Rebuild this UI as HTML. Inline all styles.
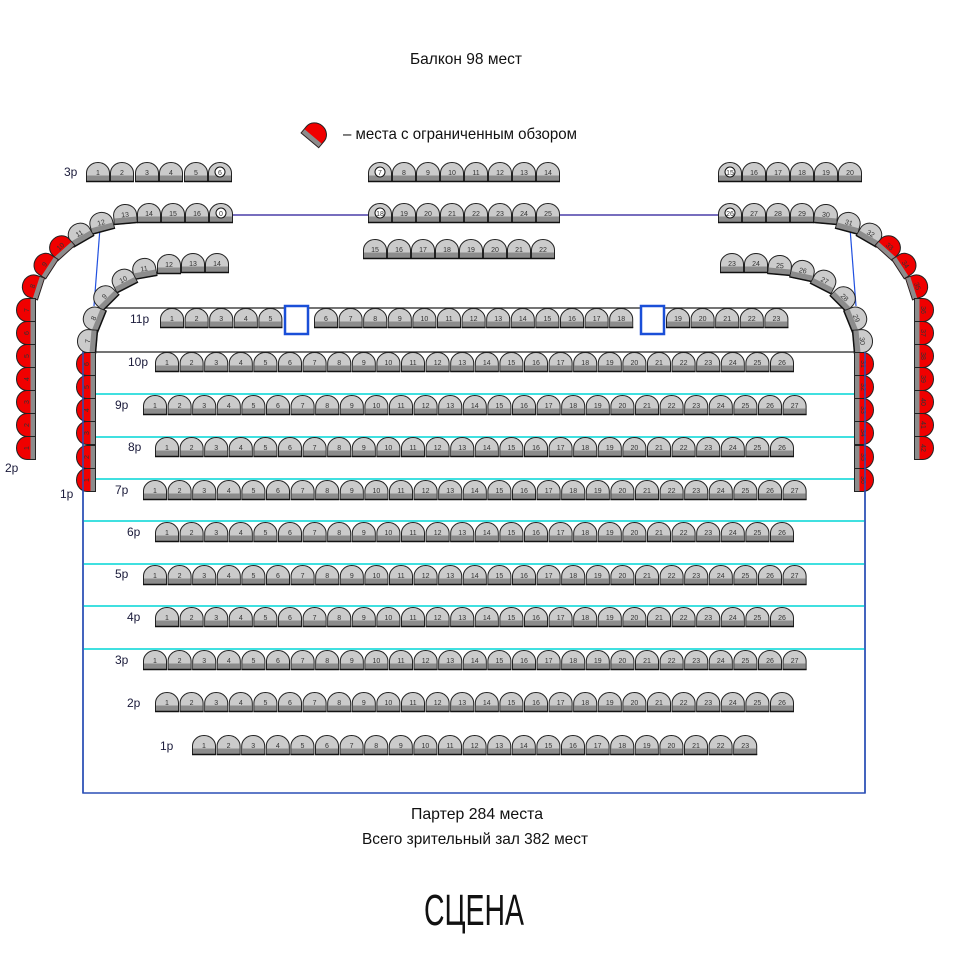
<!DOCTYPE html>
<html><head><meta charset="utf-8"><style>
html,body{margin:0;padding:0;background:#fff;}
svg{display:block;}
.n text{font-family:"Liberation Sans",sans-serif;font-size:7px;fill:#333;text-anchor:middle;}
.lbl{font-family:"Liberation Sans",sans-serif;font-size:12px;fill:#1a1a3a;}
.cap{font-family:"Liberation Sans Narrow","Liberation Sans",sans-serif;fill:#111;text-anchor:middle;}
</style></head><body>
<svg width="956" height="955" viewBox="0 0 956 955" xmlns="http://www.w3.org/2000/svg">
<defs>
<g id="s"><path d="M.5,19.5V11A11.5,10.5 0 0 1 23.5,11V19.5Z" fill="#cbcbcb" stroke="#222"/><rect x="1" y="13.5" width="22" height="5.5" fill="#8c8c8c"/><line x1="0" y1="19.5" x2="24" y2="19.5" stroke="#111" stroke-width="1.5"/></g>
<g id="rd"><path d="M.5,19.5V11A11.5,10.5 0 0 1 23.5,11V19.5Z" fill="#f00000" stroke="#222"/><rect x="1" y="14.5" width="22" height="4.5" fill="#8c8c8c"/></g>
<g id="r5"><use href="#s" x="0"/><use href="#s" x="24.6"/><use href="#s" x="49.2"/><use href="#s" x="73.8"/><use href="#s" x="98.4"/></g>
<g id="r13"><use href="#r5"/><use href="#s" x="123"/><use href="#s" x="147.6"/><use href="#s" x="172.2"/><use href="#s" x="196.8"/><use href="#s" x="221.4"/><use href="#s" x="246"/><use href="#s" x="270.6"/><use href="#s" x="295.2"/></g>
<g id="r23"><use href="#r13"/><use href="#s" x="319.8"/><use href="#s" x="344.4"/><use href="#s" x="369"/><use href="#s" x="393.6"/><use href="#s" x="418.2"/><use href="#s" x="442.8"/><use href="#s" x="467.4"/><use href="#s" x="492"/><use href="#s" x="516.6"/><use href="#s" x="541.2"/></g>
<g id="r26"><use href="#r23"/><use href="#s" x="565.8"/><use href="#s" x="590.4"/><use href="#s" x="615"/></g>
<g id="r27"><use href="#r26"/><use href="#s" x="639.6"/></g>
</defs>

<!-- captions -->
<text class="cap" x="466" y="64" font-size="16" textLength="112" lengthAdjust="spacingAndGlyphs">Балкон 98 мест</text>
<text class="cap" x="460" y="139" font-size="16" textLength="234" lengthAdjust="spacingAndGlyphs" style="text-anchor:middle">– места с ограниченным обзором</text>
<g transform="translate(316,133) rotate(40)"><use href="#rd" x="-12" y="-10"/></g>
<text class="cap" x="477" y="819" font-size="16" textLength="132" lengthAdjust="spacingAndGlyphs">Партер 284 места</text>
<text class="cap" x="475" y="844" font-size="16" textLength="226" lengthAdjust="spacingAndGlyphs">Всего зрительный зал 382 мест</text>
<text class="cap" x="474" y="925" font-size="44" textLength="100" lengthAdjust="spacingAndGlyphs">СЦЕНА</text>

<!-- lines -->
<line x1="233" y1="215" x2="368" y2="215" stroke="#4a3fa8" stroke-width="1.5"/>
<line x1="557" y1="215" x2="718" y2="215" stroke="#4a3fa8" stroke-width="1.5"/>
<line x1="100" y1="228" x2="94" y2="306" stroke="#2050e0" stroke-width="1.2"/>
<line x1="850" y1="228" x2="856" y2="306" stroke="#2050e0" stroke-width="1.2"/>
<line x1="95" y1="308" x2="855" y2="308" stroke="#222" stroke-width="1.2"/>
<line x1="95" y1="352" x2="855" y2="352" stroke="#222" stroke-width="1.2"/>
<path d="M83,345V793H865V345" fill="none" stroke="#2a4fb5" stroke-width="1.5"/>
<g stroke="#40e0e0" stroke-width="2">
<line x1="83" y1="394" x2="865" y2="394"/><line x1="83" y1="437" x2="865" y2="437"/><line x1="83" y1="479" x2="865" y2="479"/><line x1="83" y1="521" x2="865" y2="521"/><line x1="83" y1="564" x2="865" y2="564"/><line x1="83" y1="606" x2="865" y2="606"/><line x1="83" y1="649" x2="865" y2="649"/>
</g>

<!-- row labels -->
<text class="lbl" x="130" y="323">11р</text>
<text class="lbl" x="128" y="366">10р</text>
<text class="lbl" x="115" y="409">9р</text>
<text class="lbl" x="128" y="451">8р</text>
<text class="lbl" x="115" y="494">7р</text>
<text class="lbl" x="127" y="536">6р</text>
<text class="lbl" x="115" y="578">5р</text>
<text class="lbl" x="127" y="621">4р</text>
<text class="lbl" x="115" y="664">3р</text>
<text class="lbl" x="127" y="707">2р</text>
<text class="lbl" x="160" y="750">1р</text>
<text class="lbl" x="64" y="176">3р</text>
<text class="lbl" x="5" y="472">2р</text>
<text class="lbl" x="60" y="498">1р</text>

<!-- row 11 -->
<rect x="285" y="306" width="23" height="28" fill="#fff" stroke="#1a4fd8" stroke-width="2.5"/>
<rect x="641" y="306" width="23" height="28" fill="#fff" stroke="#1a4fd8" stroke-width="2.5"/>
<g class="n" transform="translate(160,308)"><use href="#r5"/><text x="12" y="13">1</text><text x="36.6" y="13">2</text><text x="61.2" y="13">3</text><text x="85.8" y="13">4</text><text x="110.4" y="13">5</text></g>
<g class="n" transform="translate(314,308)"><use href="#r13"/><text x="12" y="13">6</text><text x="36.6" y="13">7</text><text x="61.2" y="13">8</text><text x="85.8" y="13">9</text><text x="110.4" y="13">10</text><text x="135" y="13">11</text><text x="159.6" y="13">12</text><text x="184.2" y="13">13</text><text x="208.8" y="13">14</text><text x="233.4" y="13">15</text><text x="258" y="13">16</text><text x="282.6" y="13">17</text><text x="307.2" y="13">18</text></g>
<g class="n" transform="translate(666,308)"><use href="#r5"/><text x="12" y="13">19</text><text x="36.6" y="13">20</text><text x="61.2" y="13">21</text><text x="85.8" y="13">22</text><text x="110.4" y="13">23</text></g>

<!-- 26-seat rows -->
<g class="n" transform="translate(155,352)"><use href="#r26"/><text x="12" y="13">1</text><text x="36.6" y="13">2</text><text x="61.2" y="13">3</text><text x="85.8" y="13">4</text><text x="110.4" y="13">5</text><text x="135" y="13">6</text><text x="159.6" y="13">7</text><text x="184.2" y="13">8</text><text x="208.8" y="13">9</text><text x="233.4" y="13">10</text><text x="258" y="13">11</text><text x="282.6" y="13">12</text><text x="307.2" y="13">13</text><text x="331.8" y="13">14</text><text x="356.4" y="13">15</text><text x="381" y="13">16</text><text x="405.6" y="13">17</text><text x="430.2" y="13">18</text><text x="454.8" y="13">19</text><text x="479.4" y="13">20</text><text x="504" y="13">21</text><text x="528.6" y="13">22</text><text x="553.2" y="13">23</text><text x="577.8" y="13">24</text><text x="602.4" y="13">25</text><text x="627" y="13">26</text></g>
<g class="n" transform="translate(155,437)"><use href="#r26"/><text x="12" y="13">1</text><text x="36.6" y="13">2</text><text x="61.2" y="13">3</text><text x="85.8" y="13">4</text><text x="110.4" y="13">5</text><text x="135" y="13">6</text><text x="159.6" y="13">7</text><text x="184.2" y="13">8</text><text x="208.8" y="13">9</text><text x="233.4" y="13">10</text><text x="258" y="13">11</text><text x="282.6" y="13">12</text><text x="307.2" y="13">13</text><text x="331.8" y="13">14</text><text x="356.4" y="13">15</text><text x="381" y="13">16</text><text x="405.6" y="13">17</text><text x="430.2" y="13">18</text><text x="454.8" y="13">19</text><text x="479.4" y="13">20</text><text x="504" y="13">21</text><text x="528.6" y="13">22</text><text x="553.2" y="13">23</text><text x="577.8" y="13">24</text><text x="602.4" y="13">25</text><text x="627" y="13">26</text></g>
<g class="n" transform="translate(155,522)"><use href="#r26"/><text x="12" y="13">1</text><text x="36.6" y="13">2</text><text x="61.2" y="13">3</text><text x="85.8" y="13">4</text><text x="110.4" y="13">5</text><text x="135" y="13">6</text><text x="159.6" y="13">7</text><text x="184.2" y="13">8</text><text x="208.8" y="13">9</text><text x="233.4" y="13">10</text><text x="258" y="13">11</text><text x="282.6" y="13">12</text><text x="307.2" y="13">13</text><text x="331.8" y="13">14</text><text x="356.4" y="13">15</text><text x="381" y="13">16</text><text x="405.6" y="13">17</text><text x="430.2" y="13">18</text><text x="454.8" y="13">19</text><text x="479.4" y="13">20</text><text x="504" y="13">21</text><text x="528.6" y="13">22</text><text x="553.2" y="13">23</text><text x="577.8" y="13">24</text><text x="602.4" y="13">25</text><text x="627" y="13">26</text></g>
<g class="n" transform="translate(155,607)"><use href="#r26"/><text x="12" y="13">1</text><text x="36.6" y="13">2</text><text x="61.2" y="13">3</text><text x="85.8" y="13">4</text><text x="110.4" y="13">5</text><text x="135" y="13">6</text><text x="159.6" y="13">7</text><text x="184.2" y="13">8</text><text x="208.8" y="13">9</text><text x="233.4" y="13">10</text><text x="258" y="13">11</text><text x="282.6" y="13">12</text><text x="307.2" y="13">13</text><text x="331.8" y="13">14</text><text x="356.4" y="13">15</text><text x="381" y="13">16</text><text x="405.6" y="13">17</text><text x="430.2" y="13">18</text><text x="454.8" y="13">19</text><text x="479.4" y="13">20</text><text x="504" y="13">21</text><text x="528.6" y="13">22</text><text x="553.2" y="13">23</text><text x="577.8" y="13">24</text><text x="602.4" y="13">25</text><text x="627" y="13">26</text></g>
<g class="n" transform="translate(155,692)"><use href="#r26"/><text x="12" y="13">1</text><text x="36.6" y="13">2</text><text x="61.2" y="13">3</text><text x="85.8" y="13">4</text><text x="110.4" y="13">5</text><text x="135" y="13">6</text><text x="159.6" y="13">7</text><text x="184.2" y="13">8</text><text x="208.8" y="13">9</text><text x="233.4" y="13">10</text><text x="258" y="13">11</text><text x="282.6" y="13">12</text><text x="307.2" y="13">13</text><text x="331.8" y="13">14</text><text x="356.4" y="13">15</text><text x="381" y="13">16</text><text x="405.6" y="13">17</text><text x="430.2" y="13">18</text><text x="454.8" y="13">19</text><text x="479.4" y="13">20</text><text x="504" y="13">21</text><text x="528.6" y="13">22</text><text x="553.2" y="13">23</text><text x="577.8" y="13">24</text><text x="602.4" y="13">25</text><text x="627" y="13">26</text></g>

<!-- 27-seat rows -->
<g class="n" transform="translate(143,395)"><use href="#r27"/><text x="12" y="13">1</text><text x="36.6" y="13">2</text><text x="61.2" y="13">3</text><text x="85.8" y="13">4</text><text x="110.4" y="13">5</text><text x="135" y="13">6</text><text x="159.6" y="13">7</text><text x="184.2" y="13">8</text><text x="208.8" y="13">9</text><text x="233.4" y="13">10</text><text x="258" y="13">11</text><text x="282.6" y="13">12</text><text x="307.2" y="13">13</text><text x="331.8" y="13">14</text><text x="356.4" y="13">15</text><text x="381" y="13">16</text><text x="405.6" y="13">17</text><text x="430.2" y="13">18</text><text x="454.8" y="13">19</text><text x="479.4" y="13">20</text><text x="504" y="13">21</text><text x="528.6" y="13">22</text><text x="553.2" y="13">23</text><text x="577.8" y="13">24</text><text x="602.4" y="13">25</text><text x="627" y="13">26</text><text x="651.6" y="13">27</text></g>
<g class="n" transform="translate(143,480)"><use href="#r27"/><text x="12" y="13">1</text><text x="36.6" y="13">2</text><text x="61.2" y="13">3</text><text x="85.8" y="13">4</text><text x="110.4" y="13">5</text><text x="135" y="13">6</text><text x="159.6" y="13">7</text><text x="184.2" y="13">8</text><text x="208.8" y="13">9</text><text x="233.4" y="13">10</text><text x="258" y="13">11</text><text x="282.6" y="13">12</text><text x="307.2" y="13">13</text><text x="331.8" y="13">14</text><text x="356.4" y="13">15</text><text x="381" y="13">16</text><text x="405.6" y="13">17</text><text x="430.2" y="13">18</text><text x="454.8" y="13">19</text><text x="479.4" y="13">20</text><text x="504" y="13">21</text><text x="528.6" y="13">22</text><text x="553.2" y="13">23</text><text x="577.8" y="13">24</text><text x="602.4" y="13">25</text><text x="627" y="13">26</text><text x="651.6" y="13">27</text></g>
<g class="n" transform="translate(143,565)"><use href="#r27"/><text x="12" y="13">1</text><text x="36.6" y="13">2</text><text x="61.2" y="13">3</text><text x="85.8" y="13">4</text><text x="110.4" y="13">5</text><text x="135" y="13">6</text><text x="159.6" y="13">7</text><text x="184.2" y="13">8</text><text x="208.8" y="13">9</text><text x="233.4" y="13">10</text><text x="258" y="13">11</text><text x="282.6" y="13">12</text><text x="307.2" y="13">13</text><text x="331.8" y="13">14</text><text x="356.4" y="13">15</text><text x="381" y="13">16</text><text x="405.6" y="13">17</text><text x="430.2" y="13">18</text><text x="454.8" y="13">19</text><text x="479.4" y="13">20</text><text x="504" y="13">21</text><text x="528.6" y="13">22</text><text x="553.2" y="13">23</text><text x="577.8" y="13">24</text><text x="602.4" y="13">25</text><text x="627" y="13">26</text><text x="651.6" y="13">27</text></g>
<g class="n" transform="translate(143,650)"><use href="#r27"/><text x="12" y="13">1</text><text x="36.6" y="13">2</text><text x="61.2" y="13">3</text><text x="85.8" y="13">4</text><text x="110.4" y="13">5</text><text x="135" y="13">6</text><text x="159.6" y="13">7</text><text x="184.2" y="13">8</text><text x="208.8" y="13">9</text><text x="233.4" y="13">10</text><text x="258" y="13">11</text><text x="282.6" y="13">12</text><text x="307.2" y="13">13</text><text x="331.8" y="13">14</text><text x="356.4" y="13">15</text><text x="381" y="13">16</text><text x="405.6" y="13">17</text><text x="430.2" y="13">18</text><text x="454.8" y="13">19</text><text x="479.4" y="13">20</text><text x="504" y="13">21</text><text x="528.6" y="13">22</text><text x="553.2" y="13">23</text><text x="577.8" y="13">24</text><text x="602.4" y="13">25</text><text x="627" y="13">26</text><text x="651.6" y="13">27</text></g>

<!-- row 1 -->
<g class="n" transform="translate(192,735)"><use href="#r23"/><text x="12" y="13">1</text><text x="36.6" y="13">2</text><text x="61.2" y="13">3</text><text x="85.8" y="13">4</text><text x="110.4" y="13">5</text><text x="135" y="13">6</text><text x="159.6" y="13">7</text><text x="184.2" y="13">8</text><text x="208.8" y="13">9</text><text x="233.4" y="13">10</text><text x="258" y="13">11</text><text x="282.6" y="13">12</text><text x="307.2" y="13">13</text><text x="331.8" y="13">14</text><text x="356.4" y="13">15</text><text x="381" y="13">16</text><text x="405.6" y="13">17</text><text x="430.2" y="13">18</text><text x="454.8" y="13">19</text><text x="479.4" y="13">20</text><text x="504" y="13">21</text><text x="528.6" y="13">22</text><text x="553.2" y="13">23</text></g>

<!-- balcony straight rows -->
<g class="n">
<!-- 3p left -->
<use href="#s" x="86" y="162"/><text x="98" y="175">1</text>
<use href="#s" x="110" y="162"/><text x="122" y="175">2</text>
<use href="#s" x="135" y="162"/><text x="147" y="175">3</text>
<use href="#s" x="159" y="162"/><text x="171" y="175">4</text>
<use href="#s" x="184" y="162"/><text x="196" y="175">5</text>
<use href="#s" x="208" y="162"/><circle cx="220" cy="172" r="5" fill="#fff" stroke="#111"/><text x="220" y="175">6</text>
<!-- 3p middle -->
<use href="#s" x="368" y="162"/><circle cx="380" cy="172" r="5" fill="#fff" stroke="#111"/><text x="380" y="175">7</text>
<use href="#s" x="392" y="162"/><text x="404" y="175">8</text>
<use href="#s" x="416" y="162"/><text x="428" y="175">9</text>
<use href="#s" x="440" y="162"/><text x="452" y="175">10</text>
<use href="#s" x="464" y="162"/><text x="476" y="175">11</text>
<use href="#s" x="488" y="162"/><text x="500" y="175">12</text>
<use href="#s" x="512" y="162"/><text x="524" y="175">13</text>
<use href="#s" x="536" y="162"/><text x="548" y="175">14</text>
<!-- 3p right -->
<use href="#s" x="718" y="162"/><circle cx="730" cy="172" r="5" fill="#fff" stroke="#111"/><text x="730" y="175">15</text>
<use href="#s" x="742" y="162"/><text x="754" y="175">16</text>
<use href="#s" x="766" y="162"/><text x="778" y="175">17</text>
<use href="#s" x="790" y="162"/><text x="802" y="175">18</text>
<use href="#s" x="814" y="162"/><text x="826" y="175">19</text>
<use href="#s" x="838" y="162"/><text x="850" y="175">20</text>
<!-- 2p left straight -->
<use href="#s" x="137" y="203"/><text x="149" y="216">14</text>
<use href="#s" x="161" y="203"/><text x="173" y="216">15</text>
<use href="#s" x="185" y="203"/><text x="197" y="216">16</text>
<use href="#s" x="209" y="203"/><circle cx="221" cy="213" r="5" fill="#fff" stroke="#111"/><text x="221" y="216">0</text>
<!-- 2p middle -->
<use href="#s" x="368" y="203"/><circle cx="380" cy="213" r="5" fill="#fff" stroke="#111"/><text x="380" y="216">18</text>
<use href="#s" x="392" y="203"/><text x="404" y="216">19</text>
<use href="#s" x="416" y="203"/><text x="428" y="216">20</text>
<use href="#s" x="440" y="203"/><text x="452" y="216">21</text>
<use href="#s" x="464" y="203"/><text x="476" y="216">22</text>
<use href="#s" x="488" y="203"/><text x="500" y="216">23</text>
<use href="#s" x="512" y="203"/><text x="524" y="216">24</text>
<use href="#s" x="536" y="203"/><text x="548" y="216">25</text>
<!-- 2p right straight -->
<use href="#s" x="718" y="203"/><circle cx="730" cy="213" r="5" fill="#fff" stroke="#111"/><text x="730" y="216">26</text>
<use href="#s" x="742" y="203"/><text x="754" y="216">27</text>
<use href="#s" x="766" y="203"/><text x="778" y="216">28</text>
<use href="#s" x="790" y="203"/><text x="802" y="216">29</text>
<!-- 1p middle -->
<use href="#s" x="363" y="239"/><text x="375" y="252">15</text>
<use href="#s" x="387" y="239"/><text x="399" y="252">16</text>
<use href="#s" x="411" y="239"/><text x="423" y="252">17</text>
<use href="#s" x="435" y="239"/><text x="447" y="252">18</text>
<use href="#s" x="459" y="239"/><text x="471" y="252">19</text>
<use href="#s" x="483" y="239"/><text x="495" y="252">20</text>
<use href="#s" x="507" y="239"/><text x="519" y="252">21</text>
<use href="#s" x="531" y="239"/><text x="543" y="252">22</text>
<!-- 1p left straight -->
<use href="#s" x="205" y="253"/><text x="217" y="266">14</text>
<use href="#s" x="181" y="253"/><text x="193" y="266">13</text>
<use href="#s" x="157" y="254"/><text x="169" y="267">12</text>
<!-- 1p right straight -->
<use href="#s" x="720" y="253"/><text x="732" y="266">23</text>
<use href="#s" x="744" y="253"/><text x="756" y="266">24</text>
</g>

<!-- curved seats: left outer (balcony 2p) -->
<g class="n">
<g transform="translate(125,214) rotate(-5)"><use href="#s" x="-12" y="-10"/><text y="3">13</text></g>
<g transform="translate(101,222) rotate(-15)"><use href="#s" x="-12" y="-10"/><text y="3">12</text></g>
<g transform="translate(79,233) rotate(-30)"><use href="#s" x="-12" y="-10"/><text y="3">11</text></g>
<g transform="translate(60,246) rotate(-42)"><use href="#rd" x="-12" y="-10"/><text y="3">10</text></g>
<g transform="translate(44,264) rotate(-57)"><use href="#rd" x="-12" y="-10"/><text y="3">9</text></g>
<g transform="translate(32,286) rotate(-72)"><use href="#rd" x="-12" y="-10"/><text y="3">8</text></g>
<g transform="translate(26,310) rotate(-90)"><use href="#rd" x="-12" y="-10"/><text y="3">7</text></g>
<g transform="translate(26,333) rotate(-90)"><use href="#rd" x="-12" y="-10"/><text y="3">6</text></g>
<g transform="translate(26,356) rotate(-90)"><use href="#rd" x="-12" y="-10"/><text y="3">5</text></g>
<g transform="translate(26,379) rotate(-90)"><use href="#rd" x="-12" y="-10"/><text y="3">4</text></g>
<g transform="translate(26,402) rotate(-90)"><use href="#rd" x="-12" y="-10"/><text y="3">3</text></g>
<g transform="translate(26,425) rotate(-90)"><use href="#rd" x="-12" y="-10"/><text y="3">2</text></g>
<g transform="translate(26,448) rotate(-90)"><use href="#rd" x="-12" y="-10"/><text y="3">1</text></g>
<!-- left inner (balcony 1p) -->
<g transform="translate(144,268) rotate(-10)"><use href="#s" x="-12" y="-10"/><text y="3">11</text></g>
<g transform="translate(123,279) rotate(-27)"><use href="#s" x="-12" y="-10"/><text y="3">10</text></g>
<g transform="translate(104,296) rotate(-45)"><use href="#s" x="-12" y="-10"/><text y="3">9</text></g>
<g transform="translate(93,318) rotate(-68)"><use href="#s" x="-12" y="-10"/><text y="3">8</text></g>
<g transform="translate(87,341) rotate(-85)"><use href="#s" x="-12" y="-10"/><text y="3">7</text></g>
<g transform="translate(86,364) rotate(-90)"><use href="#rd" x="-12" y="-10"/><text y="3">6</text></g>
<g transform="translate(86,387) rotate(-90)"><use href="#rd" x="-12" y="-10"/><text y="3">5</text></g>
<g transform="translate(86,410) rotate(-90)"><use href="#rd" x="-12" y="-10"/><text y="3">4</text></g>
<g transform="translate(86,433) rotate(-90)"><use href="#rd" x="-12" y="-10"/><text y="3">3</text></g>
<g transform="translate(86,457) rotate(-90)"><use href="#rd" x="-12" y="-10"/><text y="3">2</text></g>
<g transform="translate(86,480) rotate(-90)"><use href="#rd" x="-12" y="-10"/><text y="3">1</text></g>
<!-- right outer (balcony 2p) -->
<g transform="translate(826,214) rotate(5)"><use href="#s" x="-12" y="-10"/><text y="3">30</text></g>
<g transform="translate(849,222) rotate(15)"><use href="#s" x="-12" y="-10"/><text y="3">31</text></g>
<g transform="translate(871,233) rotate(30)"><use href="#s" x="-12" y="-10"/><text y="3">32</text></g>
<g transform="translate(890,246) rotate(42)"><use href="#rd" x="-12" y="-10"/><text y="3">33</text></g>
<g transform="translate(906,264) rotate(57)"><use href="#rd" x="-12" y="-10"/><text y="3">34</text></g>
<g transform="translate(918,286) rotate(72)"><use href="#rd" x="-12" y="-10"/><text y="3">35</text></g>
<g transform="translate(924,310) rotate(90)"><use href="#rd" x="-12" y="-10"/><text y="3">36</text></g>
<g transform="translate(924,333) rotate(90)"><use href="#rd" x="-12" y="-10"/><text y="3">37</text></g>
<g transform="translate(924,356) rotate(90)"><use href="#rd" x="-12" y="-10"/><text y="3">38</text></g>
<g transform="translate(924,379) rotate(90)"><use href="#rd" x="-12" y="-10"/><text y="3">39</text></g>
<g transform="translate(924,402) rotate(90)"><use href="#rd" x="-12" y="-10"/><text y="3">40</text></g>
<g transform="translate(924,425) rotate(90)"><use href="#rd" x="-12" y="-10"/><text y="3">41</text></g>
<g transform="translate(924,448) rotate(90)"><use href="#rd" x="-12" y="-10"/><text y="3">42</text></g>
<!-- right inner (balcony 1p) -->
<g transform="translate(780,265) rotate(5)"><use href="#s" x="-12" y="-10"/><text y="3">25</text></g>
<g transform="translate(803,270) rotate(12)"><use href="#s" x="-12" y="-10"/><text y="3">26</text></g>
<g transform="translate(825,280) rotate(27)"><use href="#s" x="-12" y="-10"/><text y="3">27</text></g>
<g transform="translate(845,297) rotate(45)"><use href="#s" x="-12" y="-10"/><text y="3">28</text></g>
<g transform="translate(857,318) rotate(68)"><use href="#s" x="-12" y="-10"/><text y="3">29</text></g>
<g transform="translate(863,341) rotate(85)"><use href="#s" x="-12" y="-10"/><text y="3">30</text></g>
<g transform="translate(864,364) rotate(90)"><use href="#rd" x="-12" y="-10"/><text y="3">31</text></g>
<g transform="translate(864,387) rotate(90)"><use href="#rd" x="-12" y="-10"/><text y="3">32</text></g>
<g transform="translate(864,410) rotate(90)"><use href="#rd" x="-12" y="-10"/><text y="3">33</text></g>
<g transform="translate(864,433) rotate(90)"><use href="#rd" x="-12" y="-10"/><text y="3">34</text></g>
<g transform="translate(864,457) rotate(90)"><use href="#rd" x="-12" y="-10"/><text y="3">35</text></g>
<g transform="translate(864,480) rotate(90)"><use href="#rd" x="-12" y="-10"/><text y="3">36</text></g>
</g>
<line x1="83" y1="352" x2="83" y2="793" stroke="#2a4fb5" stroke-width="1.5"/>
<line x1="865" y1="352" x2="865" y2="793" stroke="#2a4fb5" stroke-width="1.5"/>
</svg>
</body></html>
